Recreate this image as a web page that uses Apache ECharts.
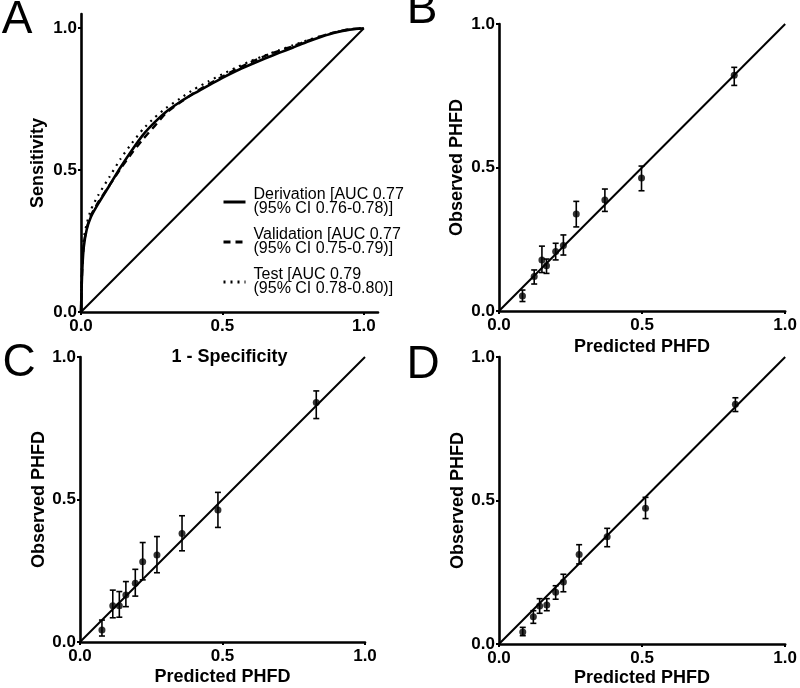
<!DOCTYPE html>
<html>
<head>
<meta charset="utf-8">
<script src="https://cdn.jsdelivr.net/npm/echarts@6/dist/echarts.min.js"></script>
<style>
html,body{margin:0;padding:0;background:#fff;}
#chart{width:800px;height:688px;}
</style>
</head>
<body>
<div id="chart"></div>
<script>
// ---------- Panel A: ROC curves (1 - specificity, sensitivity) ----------
const derivationROC = [[0,0],[0.002,0.08],[0.005,0.16],[0.01,0.23],[0.02,0.29],[0.035,0.335],[0.06,0.38],[0.1,0.445],[0.14,0.51],[0.18,0.57],[0.22,0.625],[0.26,0.668],[0.30,0.705],[0.35,0.74],[0.40,0.77],[0.45,0.798],[0.50,0.825],[0.55,0.85],[0.60,0.872],[0.65,0.893],[0.70,0.913],[0.75,0.932],[0.80,0.952],[0.85,0.97],[0.90,0.985],[0.95,0.995],[1,1]];
const validationROC = [[0,0],[0.002,0.09],[0.005,0.17],[0.01,0.24],[0.02,0.295],[0.035,0.34],[0.06,0.385],[0.1,0.445],[0.14,0.505],[0.18,0.56],[0.22,0.61],[0.26,0.655],[0.30,0.70],[0.35,0.738],[0.40,0.772],[0.45,0.802],[0.50,0.83],[0.55,0.856],[0.60,0.88],[0.65,0.902],[0.70,0.92],[0.75,0.937],[0.80,0.955],[0.85,0.972],[0.90,0.986],[0.95,0.996],[1,1]];
const testROC = [[0,0],[0.002,0.12],[0.005,0.2],[0.01,0.26],[0.02,0.31],[0.035,0.36],[0.06,0.41],[0.1,0.475],[0.14,0.54],[0.18,0.595],[0.22,0.645],[0.26,0.685],[0.30,0.718],[0.35,0.752],[0.40,0.785],[0.45,0.812],[0.50,0.838],[0.55,0.862],[0.60,0.884],[0.65,0.904],[0.70,0.922],[0.75,0.94],[0.80,0.957],[0.85,0.973],[0.90,0.986],[0.95,0.996],[1,1]];
const rocNames = ['Derivation', 'Validation', 'Test'];
const rocLegendText = {
  'Derivation': 'Derivation [AUC 0.77\n(95% CI 0.76-0.78)]',
  'Validation': 'Validation [AUC 0.77\n(95% CI 0.75-0.79)]',
  'Test': 'Test [AUC 0.79\n(95% CI 0.78-0.80)]'
};

// ---------- Panels B, C, D: calibration (predicted, observed, CI low, CI high) ----------
const bPred = [0.082,0.123,0.150,0.166,0.198,0.225,0.270,0.370,0.498,0.822];
const bObs  = [0.052,0.120,0.178,0.158,0.207,0.228,0.338,0.387,0.463,0.821];
const bLow  = [0.033,0.094,0.134,0.131,0.178,0.195,0.293,0.347,0.419,0.786];
const bHigh = [0.073,0.143,0.226,0.181,0.236,0.265,0.382,0.425,0.505,0.849];

const cPred = [0.077,0.115,0.138,0.161,0.194,0.220,0.270,0.358,0.484,0.829];
const cObs  = [0.042,0.127,0.127,0.165,0.206,0.282,0.305,0.381,0.463,0.840];
const cLow  = [0.021,0.085,0.087,0.124,0.161,0.218,0.243,0.320,0.402,0.784];
const cHigh = [0.077,0.182,0.177,0.212,0.255,0.349,0.370,0.443,0.525,0.881];

const dPred = [0.083,0.120,0.142,0.167,0.198,0.225,0.280,0.378,0.512,0.826];
const dObs  = [0.042,0.095,0.132,0.136,0.180,0.216,0.312,0.374,0.473,0.835];
const dLow  = [0.029,0.072,0.107,0.116,0.156,0.182,0.279,0.339,0.437,0.810];
const dHigh = [0.058,0.116,0.158,0.158,0.203,0.243,0.346,0.403,0.511,0.858];

const identityLine = [[0,0],[1,1]];
const tickValues = ['0.0','0.5','1.0'];
const panelLetters = ['A','B','C','D'];

// ---------- chart construction ----------
const FONT = '"Liberation Sans", Arial, sans-serif';
const chart = echarts.init(document.getElementById('chart'), null, {renderer:'canvas'});

const grids = [
  {left:81, top:14, width:297, height:298},
  {left:499, top:24, width:289, height:287},
  {left:80, top:357, width:285, height:285},
  {left:499, top:357, width:289, height:287}
];
const axisMax = [1.05, 1, 1, 1];
const xNames = ['1 - Specificity', 'Predicted PHFD', 'Predicted PHFD', 'Predicted PHFD'];
const yNames = ['Sensitivity', 'Observed PHFD', 'Observed PHFD', 'Observed PHFD'];
const xGaps = [36, 27, 26, 25];
const yGaps = [34, 33, 31, 30];

function fmt(v){
  if (v > 1.001) return '';
  return tickValues[Math.round(v / 0.5)];
}
function axisCommon(){
  return {
    type:'value', min:0, interval:0.5,
    splitLine:{show:false},
    axisLine:{show:true, onZero:false, lineStyle:{color:'#000', width:2.6}},
    axisTick:{show:true, length:3, lineStyle:{color:'#000', width:2}},
    nameLocation:'middle',
    nameTextStyle:{fontFamily:FONT, fontWeight:'bold', fontSize:18, color:'#000'}
  };
}
const xAxes = grids.map((g,i) => Object.assign(axisCommon(), {
  gridIndex:i, max:axisMax[i], name:xNames[i], nameGap:xGaps[i],
  axisLabel:{formatter:fmt, showMaxLabel: axisMax[i] <= 1, margin:6, fontFamily:FONT, fontWeight:'bold', fontSize:17, color:'#000'}
}));
const yAxes = grids.map((g,i) => Object.assign(axisCommon(), {
  gridIndex:i, max:axisMax[i], name:yNames[i], nameGap:yGaps[i],
  axisLabel:{formatter:fmt, showMaxLabel: axisMax[i] <= 1, margin:4, fontFamily:FONT, fontWeight:'bold', fontSize:17, color:'#000'}
}));

const series = [];
// Panel A
series.push({type:'line', name:'Derivation', xAxisIndex:0, yAxisIndex:0, data:derivationROC, showSymbol:false, symbol:'none', smooth:0.2,
  lineStyle:{color:'#000', width:2.6, type:'solid'}, itemStyle:{color:'#000'}, z:4});
series.push({type:'line', name:'Validation', xAxisIndex:0, yAxisIndex:0, data:validationROC, showSymbol:false, symbol:'none', smooth:0.2,
  lineStyle:{color:'#000', width:2.4, type:[7,5]}, itemStyle:{color:'#000'}, z:3});
series.push({type:'line', name:'Test', xAxisIndex:0, yAxisIndex:0, data:testROC, showSymbol:false, symbol:'none', smooth:0.2,
  lineStyle:{color:'#000', width:2.2, type:[2,5]}, itemStyle:{color:'#000'}, z:2});
series.push({type:'line', xAxisIndex:0, yAxisIndex:0, data:identityLine, symbol:'none', lineStyle:{color:'#000', width:2}, silent:true});

function errorBarSeries(idx, pred, low, high){
  return {
    type:'custom', xAxisIndex:idx, yAxisIndex:idx,
    data: pred.map((p,k) => [p, low[k], high[k]]),
    renderItem: function(params, api){
      const x = api.value(0);
      const pLo = api.coord([x, api.value(1)]);
      const pHi = api.coord([x, api.value(2)]);
      const hw = 3;
      const st = {stroke:'#000', lineWidth:1.6};
      return {type:'group', children:[
        {type:'line', shape:{x1:pLo[0], y1:pLo[1], x2:pHi[0], y2:pHi[1]}, style:st},
        {type:'line', shape:{x1:pLo[0]-hw, y1:pLo[1], x2:pLo[0]+hw, y2:pLo[1]}, style:st},
        {type:'line', shape:{x1:pHi[0]-hw, y1:pHi[1], x2:pHi[0]+hw, y2:pHi[1]}, style:st}
      ]};
    }, z:3
  };
}
const calib = [[bPred,bObs,bLow,bHigh],[cPred,cObs,cLow,cHigh],[dPred,dObs,dLow,dHigh]];
calib.forEach((c, j) => {
  const idx = j + 1;
  series.push({type:'line', xAxisIndex:idx, yAxisIndex:idx, data:identityLine, symbol:'none', lineStyle:{color:'#000', width:2}, silent:true});
  series.push(errorBarSeries(idx, c[0], c[2], c[3]));
  series.push({type:'scatter', xAxisIndex:idx, yAxisIndex:idx, data:c[0].map((p,k)=>[p, c[1][k]]),
    symbol:'circle', symbolSize:7, itemStyle:{color:'#000'}, z:4});
});

const letterPos = [[17,20],[422,10],[19,363],[423,365]];
const graphic = panelLetters.map((t,i) => ({
  type:'text', x:letterPos[i][0], y:letterPos[i][1],
  style:{text:t, fill:'#000', font:'46px ' + FONT, textAlign:'center', textVerticalAlign:'middle'}
}));

chart.setOption({
  animation:false,
  backgroundColor:'#fff',
  grid:grids,
  xAxis:xAxes,
  yAxis:yAxes,
  legend:{
    data:rocNames, orient:'vertical', left:222, top:187, padding:0,
    itemWidth:22, itemHeight:14, itemGap:10,
    formatter: n => rocLegendText[n],
    itemStyle:{opacity:0},
    lineStyle:{width:3},
    textStyle:{fontFamily:FONT, fontSize:16, lineHeight:14, color:'#000', padding:[0,0,0,3]},
    selectedMode:false
  },
  graphic:graphic,
  series:series
});
</script>
</body>
</html>
